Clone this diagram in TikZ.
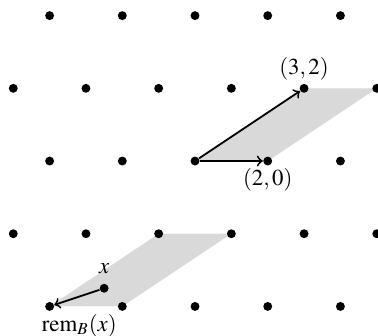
\documentclass[tikz,border=0pt]{standalone}
\usepackage{mathptmx}
\usepackage{tikz}
\usetikzlibrary{positioning}

\begin{document}
\begin{tikzpicture}[x=0.56cm, y=0.56cm,
   dot/.style={circle, fill=black, inner sep=0pt, minimum size=3.9pt},
   vec/.style={thick, ->},
   lbl/.style={inner sep=1pt}]
\useasboundingbox (-5.365,-4.787) rectangle (5.034,4.43);
% fundamental parallelograms
\fill[gray!30] (0,0) -- (2,0) -- (5,2) -- (3,2) -- cycle;
\fill[gray!30] (-4,-4) -- (-2,-4) -- (1,-2) -- (-1,-2) -- cycle;
% lattice generated by (2,0) and (3,2)
\foreach \y in {-4,-2,...,4}
  \foreach \x in {-5,...,5}{
    \ifodd\numexpr\x+\y/2+10\relax\else
      \node[dot] (p\x\y) at (\x,\y) {};
    \fi
  }
\node[dot] (xpt) at (-2.5,-3.5) {};
% basis vectors
\draw[vec] (p00) -- (p20);
\draw[vec] (p00) -- (p32);
\node[lbl, below=0pt of p20] {$(2,0)$};
\node[lbl, above=0pt of p32] {$(3,2)$};
% reduction of x
\draw[vec] (xpt) -- (p-4-4);
\node[lbl, above=3pt of xpt] {$x$};
\node[lbl, anchor=north west] at ([xshift=-4.6pt]p-4-4.south) {$\mathrm{rem}_B(x)$};
\end{tikzpicture}
\end{document}
